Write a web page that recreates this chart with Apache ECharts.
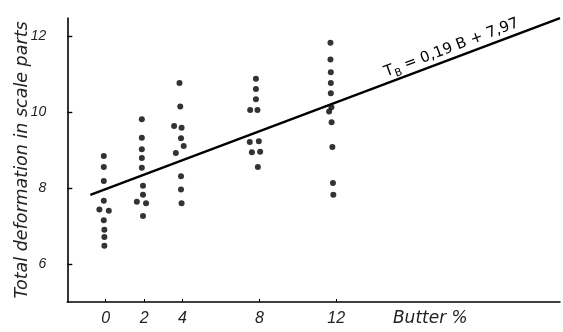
<!DOCTYPE html>
<html>
<head>
<meta charset="utf-8">
<script src="https://cdn.jsdelivr.net/npm/echarts@6/dist/echarts.min.js"></script>
<style>
  html, body { margin: 0; padding: 0; background: #fff; }
  #chart { width: 563px; height: 332px; }
</style>
</head>
<body>
<div id="chart"></div>
<script>
// Tick values on both axes
const xTicks = [0, 2, 4, 8, 12];
const yTicks = [6, 8, 10, 12];

// Measured deformation for each butter content: [butter %, deformation]
const butter0 = [[-0.1, 8.84], [-0.1, 8.55], [-0.1, 8.18], [-0.1, 7.66], [-0.33, 7.43], [0.16, 7.40], [-0.1, 7.15], [-0.07, 6.90], [-0.07, 6.71], [-0.07, 6.48]];
const butter2 = [[1.88, 9.81], [1.88, 9.32], [1.88, 9.02], [1.88, 8.79], [1.88, 8.53], [1.94, 8.06], [1.94, 7.82], [1.62, 7.64], [2.10, 7.60], [1.94, 7.26]];
const butter4 = [[3.84, 10.76], [3.88, 10.14], [3.56, 9.63], [3.95, 9.58], [3.92, 9.31], [4.06, 9.10], [3.65, 8.92], [3.92, 8.31], [3.92, 7.96], [3.95, 7.60]];
const butter8 = [[7.82, 10.87], [7.82, 10.60], [7.82, 10.33], [7.52, 10.05], [7.90, 10.05], [7.50, 9.21], [7.97, 9.23], [7.61, 8.94], [8.04, 8.95], [7.92, 8.55]];
const butter12 = [[11.70, 11.82], [11.70, 11.38], [11.72, 11.04], [11.72, 10.76], [11.72, 10.49], [11.75, 10.12], [11.63, 10.01], [11.76, 9.73], [11.80, 9.08], [11.83, 8.13], [11.85, 7.82]];

// Regression: T_B = 0.19 B + 7.97
const slope = 0.19;
const intercept = 7.97;
const fitFrom = -0.8;
const fitTo = 23.65;
const fitLine = [fitFrom, fitTo].map(b => [b, slope * b + intercept]);

const TICK_FONT = 'Liberation Sans';
const TEXT_FONT = 'DejaVu Sans';
const INK = '#000';

const chart = echarts.init(document.getElementById('chart'), null, { renderer: 'canvas' });

const dotSeries = [butter0, butter2, butter4, butter8, butter12].map(d => ({
  type: 'scatter',
  data: d,
  symbol: 'circle',
  symbolSize: 6,
  itemStyle: { color: INK },
  z: 3,
  silent: true
}));

chart.setOption({
  animation: false,
  backgroundColor: '#fff',
  grid: { left: 67.3, right: 3, top: 18, bottom: 30, containLabel: false, outerBoundsMode: 'none' },
  xAxis: {
    type: 'value',
    min: -2,
    max: 23.65,
    axisLine: { show: true, onZero: false, lineStyle: { color: INK, width: 1.6 } },
    axisTick: { show: true, inside: true, length: 3, customValues: xTicks, lineStyle: { color: INK, width: 1 } },
    axisLabel: {
      customValues: xTicks,
      margin: 9,
      fontFamily: TICK_FONT, fontStyle: 'italic', fontSize: 16, color: '#222'
    },
    splitLine: { show: false }
  },
  yAxis: {
    type: 'value',
    min: 5,
    max: 12.47,
    name: 'Total deformation in scale parts',
    nameLocation: 'middle',
    nameGap: 36,
    nameMoveOverlap: false,
    nameTextStyle: { fontFamily: TEXT_FONT, fontStyle: 'italic', fontSize: 17.5, color: '#222' },
    axisLine: { show: true, onZero: false, lineStyle: { color: INK, width: 1.6 } },
    axisTick: { show: true, inside: true, length: 5, customValues: yTicks, lineStyle: { color: INK, width: 1.4 } },
    axisLabel: {
      customValues: yTicks,
      margin: 21,
      fontFamily: TICK_FONT, fontStyle: 'italic', fontSize: 14, color: '#222'
    },
    splitLine: { show: false }
  },
  series: [
    {
      type: 'line',
      data: fitLine,
      symbol: 'none',
      lineStyle: { color: INK, width: 2.4 },
      z: 2,
      silent: true
    },
    ...dotSeries
  ]
});

// Equation label laid along the regression line, and the x-axis caption
const p1 = chart.convertToPixel({ gridIndex: 0 }, fitLine[0]);
const p2 = chart.convertToPixel({ gridIndex: 0 }, fitLine[1]);
const angle = Math.atan2(p1[1] - p2[1], p2[0] - p1[0]);
const labelB = 18.2;
const labelPos = chart.convertToPixel({ gridIndex: 0 }, [labelB, slope * labelB + intercept]);
const captionPos = chart.convertToPixel({ gridIndex: 0 }, [16.9, 5]);

chart.setOption({
  graphic: [
    {
      type: 'text',
      x: labelPos[0],
      y: labelPos[1],
      rotation: angle,
      style: {
        text: '{t|T}{s|B}{t| = 0,19 B + 7,97}',
        align: 'center',
        verticalAlign: 'bottom',
        rich: {
          t: { fontFamily: TEXT_FONT, fontSize: 15, fill: INK, padding: [0, 0, 3, 0] },
          s: { fontFamily: TEXT_FONT, fontSize: 10.5, fill: INK, verticalAlign: 'bottom' }
        }
      },
      z: 10
    },
    {
      type: 'text',
      x: captionPos[0],
      y: captionPos[1] + 17,
      style: {
        text: 'Butter %',
        align: 'center',
        verticalAlign: 'middle',
        fontFamily: TEXT_FONT, fontStyle: 'italic', fontSize: 17, fill: '#222'
      },
      z: 10
    }
  ]
});
</script>
</body>
</html>
